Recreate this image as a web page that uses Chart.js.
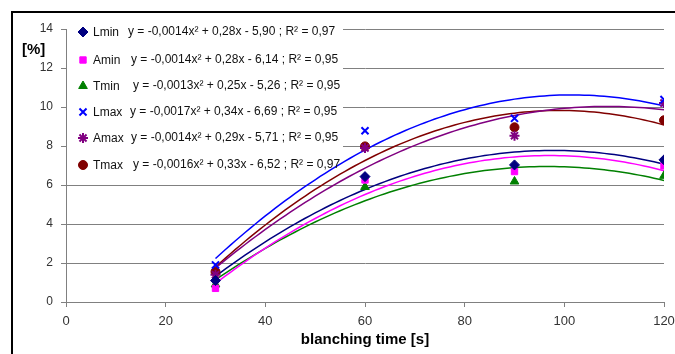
<!DOCTYPE html>
<html><head><meta charset="utf-8">
<script src="https://cdn.jsdelivr.net/npm/chart.js@4.4.0/dist/chart.umd.min.js"></script>
<style>html,body{margin:0;padding:0;background:#fff;overflow:hidden}#wrap{position:relative;width:690px;height:354px}</style>
</head><body><div id="wrap"><canvas id="c"></canvas></div>
<script>
// ---- data ----
const times = [30, 60, 90, 120];
const seriesNames = ['Lmin', 'Amin', 'Tmin', 'Lmax', 'Amax', 'Tmax'];
const Lmin = [1.10, 6.43, 7.03, 7.29];
const Amin = [0.70, 6.26, 6.69, 6.98];
const Tmin = [0.90, 5.90, 6.18, 6.47];
const Lmax = [1.90, 8.78, 9.42, 10.38];
const Amax = [1.40, 7.90, 8.53, 10.20];
const Tmax = [1.55, 7.98, 8.96, 9.32];
const equations = [
  'y = -0,0014x\u00B2 + 0,28x - 5,90 ; R\u00B2 = 0,97',
  'y = -0,0014x\u00B2 + 0,28x - 6,14 ; R\u00B2 = 0,95',
  'y = -0,0013x\u00B2 + 0,25x - 5,26 ; R\u00B2 = 0,95',
  'y = -0,0017x\u00B2 + 0,34x - 6,69 ; R\u00B2 = 0,95',
  'y = -0,0014x\u00B2 + 0,29x - 5,71 ; R\u00B2 = 0,95',
  'y = -0,0016x\u00B2 + 0,33x - 6,52 ; R\u00B2 = 0,97'
];
const xTickValues = [0, 20, 40, 60, 80, 100, 120];
const yTickValues = [0, 2, 4, 6, 8, 10, 12, 14];
const xTitle = 'blanching time [s]';
const yTitle = '[%]';

// ---- styles ----
const seriesValues = [Lmin, Amin, Tmin, Lmax, Amax, Tmax];
const colors = ['#000080', '#FF00FF', '#008000', '#0000FF', '#800080', '#800000'];
const pointStyles = ['rectRot', 'rect', 'triangle', 'crossRot', 'star', 'circle'];
const pointRadii = [5, 4.5, 5, 5, 5, 4.5];
const pointBorders = [1, 1, 1, 2, 2, 1];
const FONT = '"Liberation Sans", Arial, sans-serif';

// quadratic least-squares trendline (as in the spreadsheet's polynomial trendline)
function fitQuadratic(xs, ys) {
  let S = [0,0,0,0,0], T = [0,0,0];
  xs.forEach((x, i) => {
    for (let k = 0; k < 5; k++) S[k] += Math.pow(x, k);
    for (let k = 0; k < 3; k++) T[k] += Math.pow(x, k) * ys[i];
  });
  const A = [[S[0],S[1],S[2],T[0]],[S[1],S[2],S[3],T[1]],[S[2],S[3],S[4],T[2]]];
  for (let i = 0; i < 3; i++) {
    for (let r = i + 1; r < 3; r++) {
      const f = A[r][i] / A[i][i];
      for (let c = i; c < 4; c++) A[r][c] -= f * A[i][c];
    }
  }
  const sol = [0,0,0];
  for (let i = 2; i >= 0; i--) {
    let s = A[i][3];
    for (let c = i + 1; c < 3; c++) s -= A[i][c] * sol[c];
    sol[i] = s / A[i][i];
  }
  return x => sol[0] + sol[1] * x + sol[2] * x * x;
}
function trendPoints(vals) {
  const f = fitQuadratic(times, vals);
  const pts = [];
  const x0 = times[0], x1 = times[times.length - 1];
  for (let k = 0; k <= 90; k++) { const x = x0 + (x1 - x0) * k / 90; pts.push({x, y: f(x)}); }
  return pts;
}

const datasets = [];
seriesValues.forEach((vals, i) => {
  datasets.push({
    label: seriesNames[i] + ' trend', data: trendPoints(vals), showLine: true,
    borderColor: colors[i], borderWidth: 1.5, pointRadius: 0, fill: false, tension: 0, order: 2
  });
});
seriesValues.forEach((vals, i) => {
  datasets.push({
    label: seriesNames[i], data: times.map((t, j) => ({x: t, y: vals[j]})),
    pointStyle: pointStyles[i], pointRadius: pointRadii[i], pointBorderWidth: pointBorders[i],
    backgroundColor: colors[i], borderColor: colors[i], showLine: false, order: 1
  });
});

const legendLayout = { markerX: 83, nameX: 93, rowsY: [32, 60, 86, 112, 138, 165], eqX: [128, 131, 133, 130, 131, 133] };

const decorPlugin = {
  id: 'decor',
  beforeDatasetsDraw(chart) {
    const ctx = chart.ctx;
    ctx.save();
    ctx.fillStyle = '#fff';
    ctx.fillRect(chart.chartArea.left + 1, 19, 276, 158);
    ctx.restore();
  },
  afterDraw(chart) {
    const ctx = chart.ctx;
    ctx.save();
    // frame
    ctx.fillStyle = '#000';
    ctx.fillRect(11, 11, 700, 2);
    ctx.fillRect(11, 11, 2, 343);
    // y title
    ctx.font = 'bold 15px ' + FONT;
    ctx.fillStyle = '#000';
    ctx.textBaseline = 'middle';
    ctx.textAlign = 'left';
    ctx.fillText(yTitle, 22, 50);
    // legend
    seriesNames.forEach((name, i) => {
      const y = legendLayout.rowsY[i];
      ctx.fillStyle = colors[i]; ctx.strokeStyle = colors[i]; ctx.lineWidth = pointBorders[i];
      Chart.helpers.drawPoint(ctx, {pointStyle: pointStyles[i], radius: pointRadii[i], borderWidth: pointBorders[i], rotation: 0}, legendLayout.markerX, y);
      ctx.font = '12px ' + FONT;
      ctx.fillStyle = '#111';
      ctx.textBaseline = 'middle';
      ctx.textAlign = 'left';
      ctx.fillText(name, legendLayout.nameX, y + 1);
      ctx.fillText(equations[i], legendLayout.eqX[i], y);
    });
    ctx.restore();
  }
};

new Chart(document.getElementById('c'), {
  type: 'scatter',
  data: { datasets },
  options: {
    responsive: true, maintainAspectRatio: false, animation: false,
    layout: { padding: { top: 29, right: 26, left: 0, bottom: 0 } },
    plugins: { legend: { display: false }, tooltip: { enabled: false } },
    scales: {
      x: {
        type: 'linear', min: 0, max: 120,
        afterBuildTicks: s => { s.ticks = xTickValues.map(v => ({value: v})); },
        ticks: { color: '#333', font: { size: 13, family: FONT }, padding: 7, maxRotation: 0 },
        grid: { drawOnChartArea: false, tickLength: 5, color: '#808080' },
        border: { color: '#808080', width: 1 },
        title: { display: true, text: xTitle, color: '#000', font: { size: 15, weight: 'bold', family: FONT }, padding: { top: 2, bottom: 5 } },
        afterFit: s => { s.height = 52; }
      },
      y: {
        min: 0, max: 14,
        afterBuildTicks: s => { s.ticks = yTickValues.map(v => ({value: v})); },
        ticks: { color: '#333', font: { size: 12, family: FONT }, padding: 8 },
        grid: { color: '#808080', tickLength: 5 },
        border: { color: '#808080', width: 1 },
        afterFit: s => { s.width = 66; }
      }
    }
  },
  plugins: [decorPlugin]
});
</script></body></html>
